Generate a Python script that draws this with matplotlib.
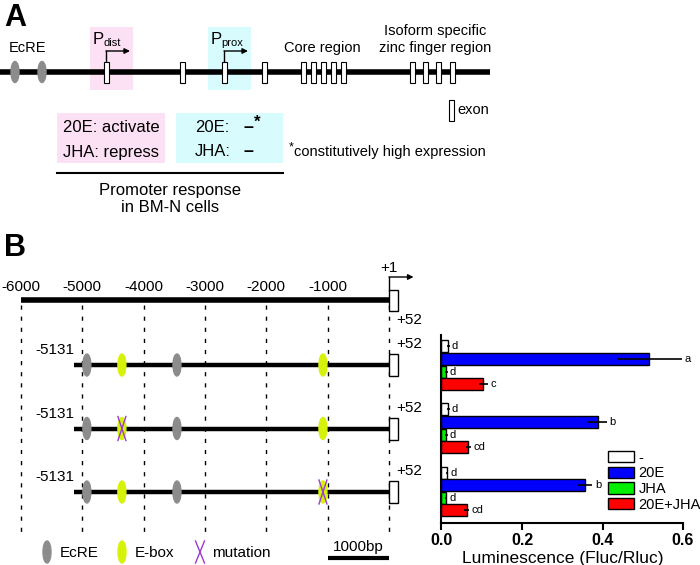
import matplotlib.pyplot as plt
from matplotlib.patches import Ellipse, Rectangle

# panel A: schematic gene, positions along the drawing
ecre_a = [15, 42]
exons_a = [106, 182, 224, 264, 303, 313, 323, 333, 343, 412, 425, 438, 452]

# panel B: reporter constructs, bp relative to +1
axis_ticks = [-6000, -5000, -4000, -3000, -2000, -1000, 0]
construct_start = -5131
ecre_sites = [-4926, -3457]
ebox_sites = [-4355, -1077]
mutated_site = [None, -4355, -1077]

# luciferase assay (Fluc/Rluc), one value per construct
treatments = ["-", "20E", "JHA", "20E+JHA"]
lum_none = [0.017, 0.017, 0.014]
lum_20e = [0.516, 0.388, 0.357]
lum_jha = [0.012, 0.012, 0.011]
lum_both = [0.104, 0.067, 0.063]
err_none = [0.003, 0.003, 0.003]
err_20e = [0.081, 0.023, 0.018]
err_jha = [0.003, 0.003, 0.003]
err_both = [0.012, 0.006, 0.006]
letters = [["d", "a", "d", "c"], ["d", "b", "d", "cd"], ["d", "b", "d", "cd"]]

PINK = "#fce0f4"
CYAN = "#d8fbfd"
GREY = "#8c8c8c"
YELLOW = "#d6f20a"
PURPLE = "#9a3ad6"


def draw_panel_a(bg):
    bg.text(4, 18, "A", fontsize=22, fontweight="bold", va="center")
    bg.add_patch(Rectangle((90, 27), 43, 63, color=PINK, lw=0, zorder=0))
    bg.add_patch(Rectangle((208, 27), 43, 63, color=CYAN, lw=0, zorder=0))
    bg.plot([0, 490], [72, 72], color="k", lw=4, solid_capstyle="butt", zorder=1)
    for x in ecre_a:
        bg.add_patch(Ellipse((x, 72), 8, 21, color=GREY, zorder=2))
    for x in exons_a:
        bg.add_patch(Rectangle((x - 2.5, 62), 5, 21, fc="white", ec="k", lw=0.8, zorder=3))

    for x, sub in [(106, "dist"), (224, "prox")]:
        bg.plot([x, x], [62, 51], color="k", lw=1)
        bg.annotate("", xy=(x + 24, 51), xytext=(x, 51),
                    arrowprops=dict(arrowstyle="-|>", lw=1, color="k",
                                    shrinkA=0, shrinkB=0, mutation_scale=8))
        bg.text(x - 13, 40, "P", fontsize=12, ha="left", va="center")
        bg.text(x - 3, 43, sub, fontsize=8, ha="left", va="center")

    bg.text(27, 48, "EcRE", fontsize=10.5, ha="center", va="center")
    bg.text(322, 48, "Core region", fontsize=10.5, ha="center", va="center")
    bg.text(435, 31, "Isoform specific", fontsize=10.5, ha="center", va="center")
    bg.text(435, 48, "zinc finger region", fontsize=10.5, ha="center", va="center")

    bg.add_patch(Rectangle((449, 100), 5, 21, fc="white", ec="k", lw=0.8))
    bg.text(457, 110, "exon", fontsize=10.5, ha="left", va="center")

    bg.add_patch(Rectangle((57, 113), 108, 50, color=PINK, lw=0))
    bg.add_patch(Rectangle((176, 113), 107, 50, color=CYAN, lw=0))
    bg.text(111, 127, "20E: activate", fontsize=12, ha="center", va="center")
    bg.text(111, 152, "JHA: repress", fontsize=12, ha="center", va="center")
    bg.text(195, 127, "20E:", fontsize=12, ha="left", va="center")
    bg.text(195, 152, "JHA:", fontsize=12, ha="left", va="center")
    bg.text(243, 127, "–", fontsize=13, fontweight="bold", ha="left", va="center")
    bg.text(254, 122, "*", fontsize=12, fontweight="bold", ha="left", va="center")
    bg.text(243, 152, "–", fontsize=13, fontweight="bold", ha="left", va="center")
    bg.text(289, 147, "*", fontsize=9, ha="left", va="center")
    bg.text(294, 152, "constitutively high expression", fontsize=10.5, ha="left", va="center")
    bg.plot([57, 283], [173, 173], color="k", lw=1.5)
    bg.text(170, 190, "Promoter response", fontsize=12, ha="center", va="center")
    bg.text(170, 207, "in BM-N cells", fontsize=12, ha="center", va="center")


def draw_mutation(ax, x, y, hw, hh):
    ax.plot([x - hw, x + hw], [y - hh, y + hh], color=PURPLE, lw=1, zorder=5)
    ax.plot([x - hw, x + hw], [y + hh, y - hh], color=PURPLE, lw=1, zorder=5)


def draw_panel_b(bg, dg):
    bg.text(4, 248, "B", fontsize=22, fontweight="bold", va="center")

    dg.vlines(axis_ticks, 305, 533, colors="k", lw=1, linestyles=(0, (3, 5)))
    dg.plot([axis_ticks[0], 0], [300, 300], color="k", lw=4, solid_capstyle="butt")
    dg.add_patch(Rectangle((0, 290), 147, 21, fc="white", ec="k", lw=1, zorder=3))
    for t in axis_ticks[:-1]:
        dg.text(t, 287, str(t), fontsize=11, ha="center", va="center")
    dg.plot([0, 0], [290, 277], color="k", lw=1)
    dg.annotate("", xy=(400, 277), xytext=(0, 277),
                arrowprops=dict(arrowstyle="-|>", lw=1, color="k",
                                shrinkA=0, shrinkB=0, mutation_scale=8))
    dg.text(-150, 268, "+1", fontsize=11, ha="left", va="center")
    dg.text(115, 320, "+52", fontsize=11, ha="left", va="center")

    for i, mut in enumerate(mutated_site):
        y = 365 + 63.5 * i
        dg.plot([construct_start, 0], [y, y], color="k", lw=3.2, solid_capstyle="butt", zorder=1)
        dg.add_patch(Rectangle((0, y - 11), 147, 22, fc="white", ec="k", lw=1, zorder=3))
        dg.text(construct_start, y - 15, str(construct_start), fontsize=11, ha="right", va="center")
        dg.text(115, y - 21, "+52", fontsize=11, ha="left", va="center")
        for x in ecre_sites:
            dg.add_patch(Ellipse((x, y), 130, 22, color=GREY, zorder=2))
        for x in ebox_sites:
            dg.add_patch(Ellipse((x, y), 130, 22, color=YELLOW, zorder=2))
        if mut is not None:
            draw_mutation(dg, mut, y, 65, 12)

    # legend and scale bar
    bg.add_patch(Ellipse((47, 552), 8, 22, color=GREY))
    bg.text(60, 553, "EcRE", fontsize=11, ha="left", va="center")
    bg.add_patch(Ellipse((122, 552), 8, 22, color=YELLOW))
    bg.text(135, 553, "E-box", fontsize=11, ha="left", va="center")
    draw_mutation(bg, 200, 552, 4.5, 11)
    bg.text(212, 553, "mutation", fontsize=11, ha="left", va="center")
    dg.plot([-1000, 0], [558, 558], color="k", lw=3, solid_capstyle="butt")
    dg.text(-500, 547, "1000bp", fontsize=11, ha="center", va="center")


def draw_bars(ax):
    means = [lum_none, lum_20e, lum_jha, lum_both]
    errs = [err_none, err_20e, err_jha, err_both]
    colors = ["white", "#0000ff", "#00ee00", "#ff0000"]
    offsets = [-0.3, -0.1, 0.1, 0.3]
    groups = [g + 0.48 for g in range(len(lum_none))]
    for k, label in enumerate(treatments):
        ys = [g + offsets[k] for g in groups]
        ax.barh(ys, means[k], height=0.19, color=colors[k], edgecolor="k", lw=1,
                xerr=errs[k], error_kw=dict(ecolor="k", lw=1.2, capsize=0), label=label)
        for j, y in enumerate(ys):
            ax.text(means[k][j] + errs[k][j] + 0.006, y, letters[j][k], fontsize=8,
                    ha="left", va="center")
    ax.set_ylim(2.98, 0)
    ax.set_xlim(0, 0.6)
    ax.set_yticks([])
    ax.set_xticks([0, 0.2, 0.4, 0.6])
    ax.set_xticklabels(["0.0", "0.2", "0.4", "0.6"], fontsize=11.5, fontweight="bold")
    ax.tick_params(axis="x", direction="out", length=5, width=1.5, pad=2)
    for side in ["top", "right"]:
        ax.spines[side].set_visible(False)
    for side in ["left", "bottom"]:
        ax.spines[side].set_linewidth(1.5)
    ax.set_xlabel("Luminescence (Fluc/Rluc)", fontsize=12.5, labelpad=2)
    ax.legend(loc="upper left", bbox_to_anchor=(0.689, 0.385), frameon=False,
              fontsize=10.5, handlelength=1.8, handleheight=0.8, labelspacing=0.12,
              handletextpad=0.3, borderpad=0, borderaxespad=0)


def main() -> None:
    plt.rcParams["font.family"] = ["Liberation Sans", "DejaVu Sans"]
    fig = plt.figure(figsize=(7, 5.65), dpi=100)

    bg = fig.add_axes([0, 0, 1, 1])
    bg.set_xlim(0, 700)
    bg.set_ylim(565, 0)
    bg.axis("off")

    # diagram axes in bp: -6000 at x=21px, 0 at x=389px
    px_per_bp = 368 / 6000
    dg = fig.add_axes([0, 0, 420 / 700, 1])
    dg.set_xlim(-389 / px_per_bp, 31 / px_per_bp)
    dg.set_ylim(565, 0)
    dg.axis("off")

    ax = fig.add_axes([441.5 / 700, 1 - 523 / 565, (683 - 441.5) / 700, (523 - 335) / 565])

    draw_panel_a(bg)
    draw_panel_b(bg, dg)
    draw_bars(ax)

    fig.savefig("out.png", dpi=100)


if __name__ == "__main__":
    main()
